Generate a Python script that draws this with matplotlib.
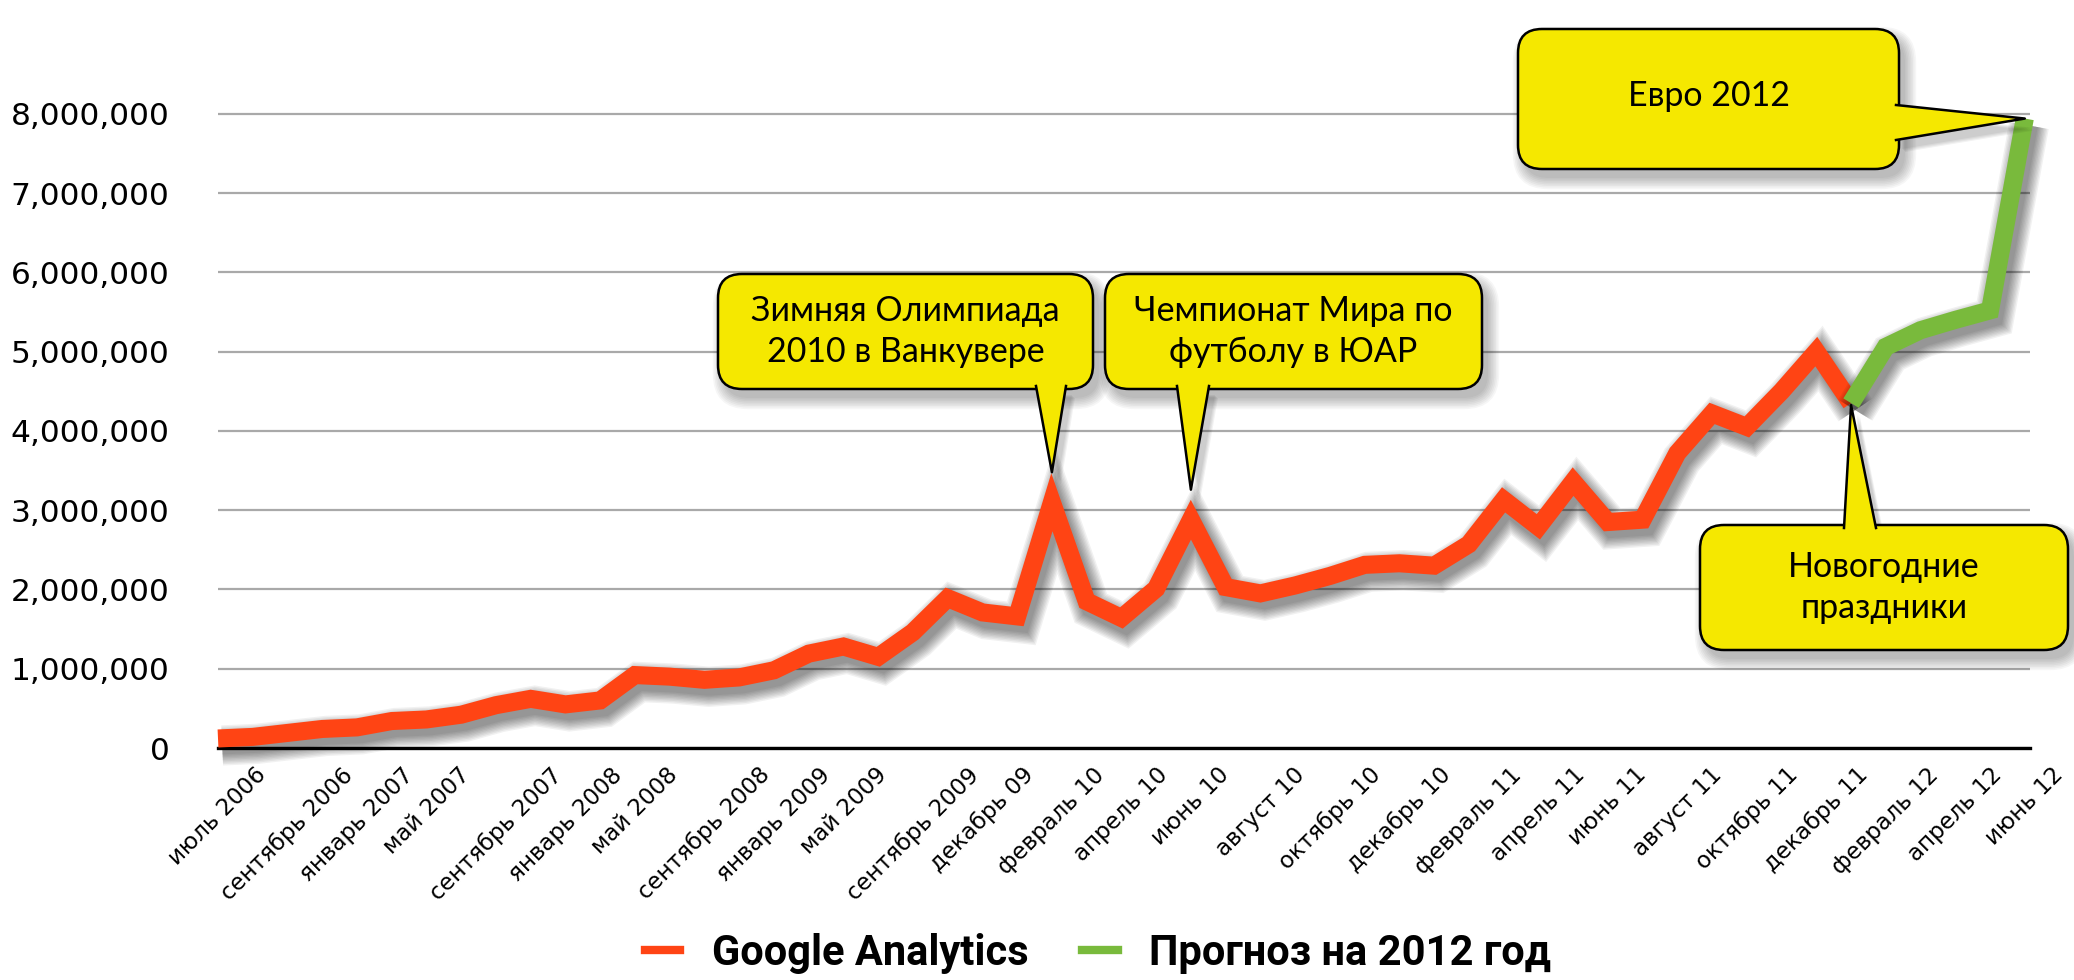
import matplotlib
matplotlib.use("Agg")
import matplotlib.pyplot as plt
import matplotlib.patheffects as pe
from matplotlib.patches import FancyBboxPatch, Polygon
from matplotlib.lines import Line2D
from matplotlib.transforms import IdentityTransform
import numpy as np

# Monthly visits (every other category carries a label)
tick_labels = [
    "июль 2006", "сентябрь 2006", "январь 2007", "май 2007", "сентябрь 2007",
    "январь 2008", "май 2008", "сентябрь 2008", "январь 2009", "май 2009",
    "сентябрь 2009", "декабрь 09", "февраль 10", "апрель 10", "июнь 10",
    "август 10", "октябрь 10", "декабрь 10", "февраль 11", "апрель 11",
    "июнь 11", "август 11", "октябрь 11", "декабрь 11", "февраль 12",
    "апрель 12", "июнь 12",
]

ga_visits = [
    120000, 140000, 190000, 240000, 260000, 340000, 360000, 420000, 540000, 620000,
    550000, 600000, 920000, 900000, 860000, 890000, 980000, 1190000, 1280000, 1150000,
    1460000, 1890000, 1710000, 1660000, 3100000, 1850000, 1640000, 2010000, 2880000, 2030000,
    1950000, 2050000, 2170000, 2310000, 2330000, 2300000, 2570000, 3130000, 2790000, 3360000,
    2850000, 2880000, 3720000, 4220000, 4050000, 4500000, 5000000, 4350000,
]
forecast_2012 = [4350000, 5060000, 5270000, 5400000, 5520000, 7940000]

RED = "#ff4414"
GREEN = "#79ba3c"
YELLOW = "#f5e800"
W, H = 2074, 980

fig = plt.figure(figsize=(W / 100, H / 100), dpi=100)
ax = fig.add_axes([218 / W, 1 - 748 / H, (2030 - 218) / W, (748 - 90) / H])

n_points = len(ga_visits) + len(forecast_2012) - 1
x_ga = np.arange(len(ga_visits))
x_fc = np.arange(len(ga_visits) - 1, n_points)

ax.set_xlim(0, n_points - 1 + 0.15)
ax.set_ylim(0, 8.3e6)


def soft_shadow(lw):
    layers = [
        pe.SimpleLineShadow(offset=(3, -5), shadow_color="black", alpha=0.055,
                            linewidth=lw + 2 * k)
        for k in range(9)
    ]
    return layers + [pe.Normal()]


LW = 13
ax.plot(x_ga, ga_visits, color=RED, lw=LW, solid_joinstyle="miter",
        solid_capstyle="butt", clip_on=False, zorder=3, path_effects=soft_shadow(LW))
ax.plot(x_fc, forecast_2012, color=GREEN, lw=LW, solid_joinstyle="miter",
        solid_capstyle="butt", clip_on=False, zorder=4, path_effects=soft_shadow(LW))

# axes styling
ax.set_yticks(np.arange(0, 8.5e6, 1e6))
ax.set_yticklabels([f"{int(v):,}" for v in np.arange(0, 8.5e6, 1e6)])
ax.set_xticks(np.arange(0, n_points, 2))
ax.set_xticklabels(tick_labels, rotation=45, ha="center", fontsize=16.5)
ax.tick_params(axis="y", length=0, pad=35, labelsize=22.5)
ax.tick_params(axis="x", length=0, pad=11)
ax.yaxis.grid(True, color="#a9a9a9", lw=1.6)
ax.set_axisbelow(True)
for side in ["top", "right", "left"]:
    ax.spines[side].set_visible(False)
ax.spines["bottom"].set_color("black")
ax.spines["bottom"].set_linewidth(2.4)
ax.spines["bottom"].set_zorder(2.5)

# legend
handles = [Line2D([], [], color=RED, lw=6), Line2D([], [], color=GREEN, lw=6)]
fig.legend(handles, ["Google Analytics", "Прогноз на 2012 год"], loc="center",
           bbox_to_anchor=(1098 / W, 1 - 953 / H), ncol=2, frameon=False,
           prop={"family": ["Roboto", "DejaVu Sans"], "weight": "bold", "size": 30},
           handlelength=0.85, handletextpad=0.75, columnspacing=1.3)

ident = IdentityTransform()


def callout(box, base, tip, text, text_y=None):
    # box and base in pixels measured from the top; tip in display coords
    x0, top, x1, bottom = box
    y0, y1 = H - bottom, H - top
    b0 = (base[0][0], H - base[0][1])
    b1 = (base[1][0], H - base[1][1])
    for k in range(8):
        g = 1.6 * k
        fig.add_artist(FancyBboxPatch(
            (x0 + 6 - g, y0 - 9 - g), x1 - x0 + 2 * g, y1 - y0 + 2 * g,
            boxstyle=f"round,pad=0,rounding_size={24 + g}", transform=ident,
            fc="black", ec="none", alpha=0.035, zorder=5))
    for k in range(4):
        off = np.array([6 + k, -9 - k])
        fig.add_artist(Polygon([np.add(b0, off), np.add(b1, off), np.add(tip, off)],
                               closed=True, transform=ident, fc="black", ec="none",
                               alpha=0.05, zorder=5))
    fig.add_artist(FancyBboxPatch(
        (x0, y0), x1 - x0, y1 - y0, boxstyle="round,pad=0,rounding_size=24",
        transform=ident, fc=YELLOW, ec="black", lw=1.8, zorder=6))
    fig.add_artist(Polygon([b0, b1, tip], closed=True, transform=ident,
                           fc=YELLOW, ec="none", zorder=7))
    fig.add_artist(Line2D([b0[0], tip[0], b1[0]], [b0[1], tip[1], b1[1]],
                          transform=ident, color="black", lw=1.8, zorder=8))
    cy = H - (text_y if text_y is not None else (top + bottom) / 2)
    fig.text((x0 + x1) / 2, cy, text, transform=ident, ha="center", va="center",
             fontsize=24.5, family=["Lato", "DejaVu Sans"], linespacing=1.33, zorder=9)


def point_px(i, v, lift=0):
    px, py = ax.transData.transform((i, v))
    return (px, py + lift)


i_olymp, i_wc = 24, 28
i_ny = len(ga_visits) - 1
callout((718, 274, 1093, 389), [(1036, 386), (1066, 386)],
        point_px(i_olymp, ga_visits[i_olymp], 30), "Зимняя Олимпиада\n2010 в Ванкувере")
callout((1105, 274, 1482, 389), [(1177, 386), (1209, 386)],
        point_px(i_wc, ga_visits[i_wc], 30), "Чемпионат Мира по\nфутболу в ЮАР")
callout((1518, 29, 1899, 169), [(1896, 105), (1896, 140)],
        point_px(n_points - 1, forecast_2012[-1]), "Евро 2012", text_y=96)
callout((1700, 525, 2068, 650), [(1844, 528), (1876, 528)],
        point_px(i_ny, forecast_2012[0], -2), "Новогодние\nпраздники")

fig.savefig("out.png", dpi=100)
